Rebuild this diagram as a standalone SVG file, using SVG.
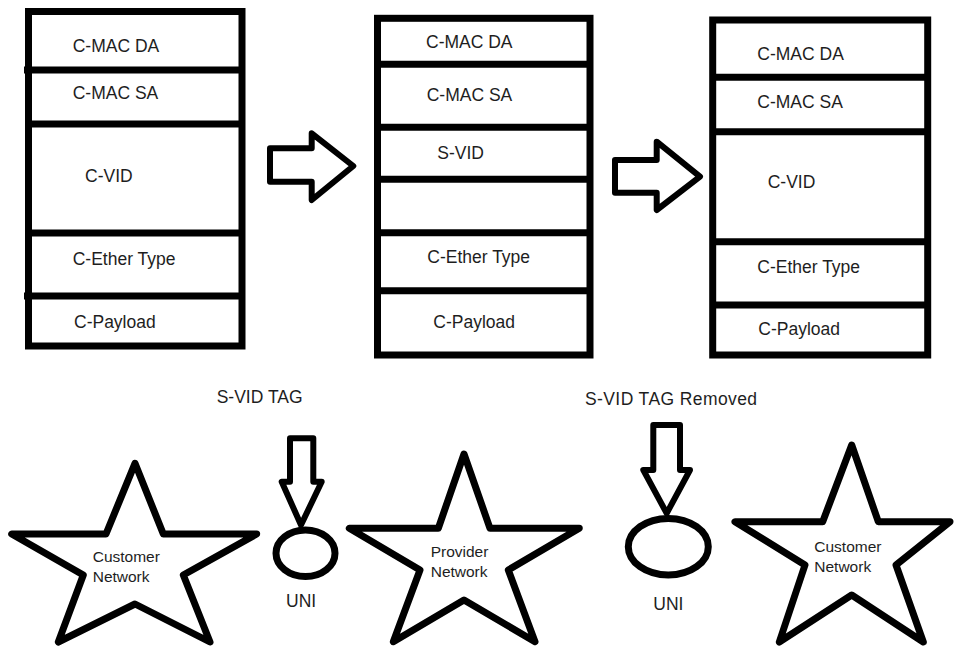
<svg xmlns="http://www.w3.org/2000/svg" width="954" height="646" viewBox="0 0 954 646">
<style>
.frame{fill:#fff;stroke:#000;stroke-width:7}
.div{stroke:#000;stroke-width:7}
.t{font-family:"Liberation Sans",Arial,sans-serif;font-size:17.5px;fill:#1e1e1e}
.s{font-family:"Liberation Sans",Arial,sans-serif;font-size:15.5px;fill:#1e1e1e}
.shape{fill:#fff;stroke:#000;stroke-width:7;stroke-linejoin:round}
.arr{fill:#fff;stroke:#000;stroke-width:6;stroke-linejoin:round}
</style>
<rect width="954" height="646" fill="#fff"/>

<g id="frame1">
<rect class="frame" x="28.5" y="11.5" width="213.5" height="334.5"/>
<line class="div" x1="24" y1="70" x2="242" y2="70"/>
<line class="div" x1="28" y1="124" x2="242" y2="124"/>
<line class="div" x1="28" y1="233" x2="242" y2="233"/>
<line class="div" x1="24" y1="296" x2="242" y2="296"/>
<text class="t" x="72.7" y="51.7">C-MAC DA</text>
<text class="t" x="72.7" y="99.3">C-MAC SA</text>
<text class="t" x="85" y="181.7">C-VID</text>
<text class="t" x="72.7" y="265">C-Ether Type</text>
<text class="t" x="74" y="328">C-Payload</text>
</g>

<g id="frame2">
<rect class="frame" x="377.5" y="18.3" width="212.5" height="336.7"/>
<line class="div" x1="377" y1="64.3" x2="590" y2="64.3"/>
<line class="div" x1="377" y1="127.3" x2="590" y2="127.3"/>
<line class="div" x1="377" y1="179.3" x2="590" y2="179.3"/>
<line class="div" x1="377" y1="232.7" x2="590" y2="232.7"/>
<line class="div" x1="377" y1="290.7" x2="590" y2="290.7"/>
<text class="t" x="426" y="48.3">C-MAC DA</text>
<text class="t" x="426.7" y="100.7">C-MAC SA</text>
<text class="t" x="437.3" y="159.3">S-VID</text>
<text class="t" x="427.3" y="263.3">C-Ether Type</text>
<text class="t" x="433.3" y="328.3">C-Payload</text>
</g>

<g id="frame3">
<rect class="frame" x="712.7" y="20" width="215" height="335"/>
<line class="div" x1="712" y1="77.3" x2="928" y2="77.3"/>
<line class="div" x1="712" y1="131.7" x2="928" y2="131.7"/>
<line class="div" x1="712" y1="241.7" x2="928" y2="241.7"/>
<line class="div" x1="712" y1="305" x2="928" y2="305"/>
<text class="t" x="757.3" y="60">C-MAC DA</text>
<text class="t" x="757.3" y="108.3">C-MAC SA</text>
<text class="t" x="767.7" y="188.3">C-VID</text>
<text class="t" x="757.3" y="272.7">C-Ether Type</text>
<text class="t" x="758.3" y="335">C-Payload</text>
</g>

<g id="customer-network-1">
<polygon class="shape" points="135,463.3 163.3,534 256.7,534 183.3,575 210,642 135,604 58.3,642 83.3,575 11.7,534 106,534"/>
<text class="s" x="92.7" y="561.7">Customer</text>
<text class="s" x="92.7" y="581.7">Network</text>
</g>

<g id="uni-1">
<ellipse class="shape" cx="305.5" cy="553.3" rx="29.5" ry="23.3"/>
<text class="t" x="286" y="607.3">UNI</text>
</g>

<g id="provider-network">
<polygon class="shape" points="464,454 490,528.3 579.3,528.3 508.3,570 535,641.7 464,600 393.3,641.7 420,570 349.3,528.3 438.3,528.3"/>
<text class="s" x="430.7" y="557.3">Provider</text>
<text class="s" x="430.7" y="577.3">Network</text>
</g>

<g id="uni-2">
<ellipse class="shape" cx="668.3" cy="546.7" rx="40" ry="28.3"/>
<text class="t" x="653.3" y="610">UNI</text>
</g>

<g id="customer-network-2">
<polygon class="shape" points="851.7,445 878.3,521.7 950,521.7 896,565 923.3,642 851.7,595 779.3,642 805,565 735,521.7 822.7,521.7"/>
<text class="s" x="814.3" y="551.7">Customer</text>
<text class="s" x="814.3" y="571.7">Network</text>
</g>

<g id="label-svid-tag">
<text class="t" x="216.7" y="402.7">S-VID TAG</text>
</g>
<g id="label-svid-removed">
<text class="t" x="585" y="405" textLength="172">S-VID TAG Removed</text>
</g>

<g id="connectors">
<polygon class="arr" points="270,148.3 311.7,148.3 311.7,133.3 353.3,166 311.7,200 311.7,181.7 270,181.7"/>
<polygon class="arr" points="615,160 656.7,160 656.7,141.7 700,176.7 656.7,210 656.7,192.7 615,192.7"/>
<polygon class="arr" points="290,438.3 313.3,438.3 313.3,481.7 321.7,481.7 301,525 281.7,481.7 290,481.7"/>
<polygon class="arr" points="653.3,425 680,425 680,470 690,470 666.7,513.3 643.3,470 653.3,470"/>
</g>
</svg>
